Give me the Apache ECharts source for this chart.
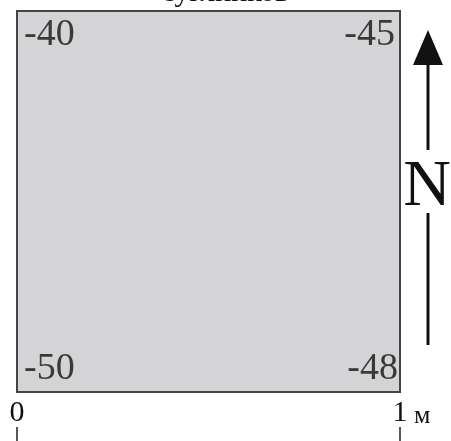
<!DOCTYPE html>
<html>
<head>
<meta charset="utf-8">
<script src="https://cdn.jsdelivr.net/npm/echarts@6/dist/echarts.min.js"></script>
<style>html,body{margin:0;padding:0;background:#fff;}#c{width:451px;height:441px;}</style>
</head>
<body>
<div id="c"></div>
<script>
// Data
var titleText = 'суглинков';
var cornerX = [0, 1, 0, 1];
var cornerY = [1, 1, 0, 0];
var cornerValues = [-40, -45, -50, -48];
var scaleTicks = [0, 1];
var scaleUnit = 'м';
var northLabel = 'N';

var FONT = 'Liberation Serif';

var chart = echarts.init(document.getElementById('c'), null, {renderer: 'canvas'});

var labelPos = [
  {position: [7, 5], align: 'left', verticalAlign: 'top'},
  {position: [-5, 5], align: 'right', verticalAlign: 'top'},
  {position: [7, -4], align: 'left', verticalAlign: 'bottom'},
  {position: [-2, -4], align: 'right', verticalAlign: 'bottom'}
];

var scatterData = cornerValues.map(function (v, i) {
  return {
    value: [cornerX[i], cornerY[i], v],
    label: labelPos[i]
  };
});

chart.setOption({
  animation: false,
  backgroundColor: '#ffffff',
  title: {
    text: titleText,
    left: 'center',
    top: -27,
    textStyle: {fontFamily: FONT, fontSize: 30, fontWeight: 'normal', color: '#111'}
  },
  grid: [
    {
      left: 17, right: 51, top: 11, bottom: 49,
      outerBoundsMode: 'none',
      show: true,
      backgroundColor: '#d4d4d6',
      borderColor: '#444',
      borderWidth: 2
    },
    {
      left: 17, right: 51, top: 427, bottom: 0,
      outerBoundsMode: 'none',
      show: false
    }
  ],
  xAxis: [
    {
      gridIndex: 0, type: 'value', min: 0, max: 1, show: false
    },
    {
      gridIndex: 1,
      type: 'value',
      position: 'top',
      min: scaleTicks[0], max: scaleTicks[scaleTicks.length - 1], interval: 1,
      axisLine: {show: false},
      axisTick: {show: false},
      axisLabel: {
        show: true,
        margin: 4,
        lineHeight: 20,
        fontFamily: FONT, fontSize: 30, color: '#111',
        formatter: function (v) { return String(v); }
      },
      splitLine: {show: true, lineStyle: {color: '#222', width: 1.5}}
    }
  ],
  yAxis: [
    {gridIndex: 0, type: 'value', min: 0, max: 1, show: false},
    {gridIndex: 1, type: 'value', min: 0, max: 1, show: false}
  ],
  series: [{
    type: 'scatter',
    xAxisIndex: 0,
    yAxisIndex: 0,
    symbolSize: 0,
    data: scatterData,
    label: {
      show: true,
      fontFamily: FONT,
      fontSize: 38,
      color: '#111',
      formatter: function (p) { return String(p.value[2]); }
    }
  }],
  graphic: [
    {type: 'polygon', shape: {points: [[428, 30], [413, 65], [443, 65]]}, style: {fill: '#111'}},
    {type: 'line', shape: {x1: 428, y1: 62, x2: 428, y2: 150}, style: {stroke: '#111', lineWidth: 3}},
    {type: 'line', shape: {x1: 428, y1: 213, x2: 428, y2: 345}, style: {stroke: '#111', lineWidth: 3}},
    {type: 'text', x: 427, y: 188, style: {text: northLabel, font: '66px "Liberation Serif"', fill: '#111', textAlign: 'center', textVerticalAlign: 'middle'}},
    {type: 'text', x: 414, y: 426, style: {text: scaleUnit, font: '26px "Liberation Serif"', lineHeight: 20, fill: '#111', textAlign: 'left', textVerticalAlign: 'bottom'}}
  ]
});
</script>
</body>
</html>
